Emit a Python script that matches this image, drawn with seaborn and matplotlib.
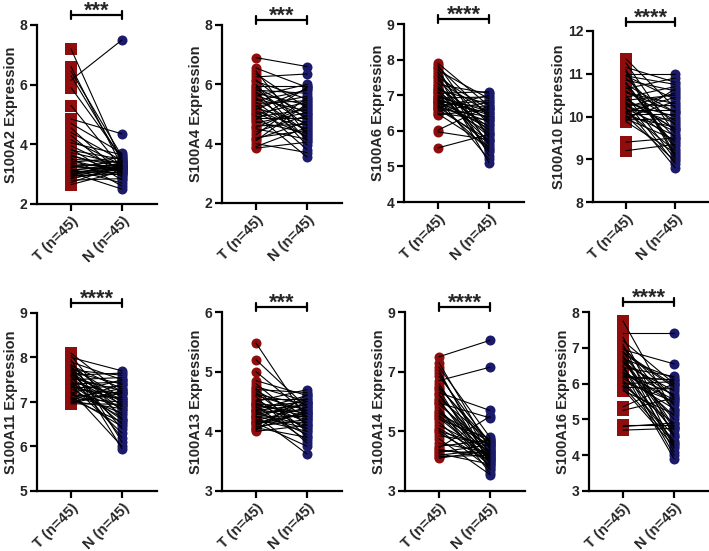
import numpy as np
import pandas as pd
import seaborn as sns
import matplotlib.pyplot as plt
import matplotlib.transforms as mtransforms

sns.set_style('ticks')
plt.rcParams['font.family'] = ['Liberation Sans', 'DejaVu Sans']
plt.rcParams['font.weight'] = 'bold'

genes = ['S100A2', 'S100A4', 'S100A6', 'S100A10',
         'S100A11', 'S100A13', 'S100A14', 'S100A16']
groups = ['T (n=45)', 'N (n=45)']
stars = ['***', '***', '****', '****', '****', '***', '****', '****']
t_markers = ['s', 'o', 'o', 's', 's', 'o', 'o', 's']
ylims = [(2, 8), (2, 8), (4, 9), (8, 12), (5, 9), (3, 6), (3, 9), (3, 8)]
yticks = [[2, 4, 6, 8], [2, 4, 6, 8], [4, 5, 6, 7, 8, 9], [8, 9, 10, 11, 12],
          [5, 6, 7, 8, 9], [3, 4, 5, 6], [3, 5, 7, 9], [3, 4, 5, 6, 7, 8]]

# paired values, tumour (T) and normal (N), 45 each
T_A2 = [7.20, 6.60, 6.45, 6.30, 6.15, 5.90, 5.30, 4.85, 4.70,
        4.55, 4.40, 4.30, 4.15, 4.05, 3.95, 3.85, 3.80, 3.72,
        3.65, 3.60, 3.55, 3.50, 3.45, 3.40, 3.36, 3.32, 3.28,
        3.25, 3.22, 3.18, 3.15, 3.12, 3.10, 3.07, 3.05, 3.02,
        3.00, 2.97, 2.95, 2.92, 2.88, 2.85, 2.80, 2.72, 2.65]
N_A2 = [3.40, 3.25, 3.60, 3.45, 7.50, 3.55, 3.20, 4.35, 3.70,
        3.00, 3.45, 2.90, 3.30, 3.65, 3.15, 2.80, 3.50, 3.35,
        3.05, 3.25, 2.60, 3.40, 3.10, 3.55, 3.20, 2.95, 3.30,
        3.15, 3.45, 2.70, 3.25, 3.35, 3.05, 3.20, 2.50, 3.30,
        3.15, 3.40, 3.00, 3.25, 3.10, 3.20, 2.85, 3.30, 3.10]

T_A4 = [6.90, 6.55, 6.45, 6.35, 6.25, 6.15, 6.10, 6.00, 5.95,
        5.90, 5.85, 5.80, 5.75, 5.70, 5.65, 5.60, 5.55, 5.50,
        5.45, 5.40, 5.35, 5.30, 5.25, 5.20, 5.15, 5.10, 5.05,
        5.00, 4.95, 4.90, 4.85, 4.80, 4.75, 4.70, 4.60, 4.55,
        4.50, 4.40, 4.30, 4.20, 4.15, 4.10, 4.00, 3.90, 3.85]
N_A4 = [6.60, 5.90, 4.30, 5.20, 6.35, 4.80, 5.50, 4.10, 5.95,
        5.00, 4.60, 5.70, 3.95, 5.30, 4.90, 6.00, 4.40, 5.10,
        5.80, 4.20, 5.45, 3.80, 5.60, 4.70, 5.85, 4.50, 4.25,
        5.40, 3.55, 5.15, 4.85, 5.90, 4.35, 5.05, 4.65, 5.25,
        4.15, 4.95, 5.55, 4.45, 4.75, 5.35, 3.70, 4.55, 4.05]

T_A6 = [7.90, 7.85, 7.80, 7.75, 7.70, 7.65, 7.60, 7.55, 7.50,
        7.45, 7.40, 7.35, 7.30, 7.25, 7.20, 7.18, 7.15, 7.10,
        7.08, 7.05, 7.00, 6.98, 6.95, 6.92, 6.90, 6.88, 6.85,
        6.82, 6.80, 6.78, 6.75, 6.72, 6.70, 6.68, 6.65, 6.62,
        6.60, 6.55, 6.50, 6.48, 6.45, 6.02, 5.97, 5.52, 6.85]
N_A6 = [6.70, 5.80, 6.40, 5.30, 6.90, 5.60, 6.20, 5.10, 6.60,
        5.90, 6.50, 5.40, 7.05, 6.00, 6.30, 5.50, 6.75, 6.10,
        5.70, 7.10, 6.35, 5.85, 6.55, 6.95, 5.20, 6.45, 6.05,
        6.65, 5.95, 6.25, 5.45, 6.85, 6.15, 5.65, 7.00, 6.40,
        5.75, 6.80, 6.30, 5.55, 6.60, 6.70, 5.75, 5.90, 6.50]

T_A10 = [11.35, 11.25, 11.15, 11.10, 11.00, 10.95, 10.90, 10.85, 10.80,
         10.75, 10.70, 10.65, 10.60, 10.55, 10.50, 10.45, 10.40, 10.38,
         10.35, 10.32, 10.30, 10.28, 10.25, 10.22, 10.20, 10.18, 10.15,
         10.12, 10.10, 10.08, 10.05, 10.02, 10.00, 9.98, 9.95, 9.92,
         9.90, 9.88, 10.42, 10.58, 10.78, 10.95, 11.05, 9.40, 9.20]
N_A10 = [10.20, 9.60, 10.80, 9.10, 11.00, 10.40, 9.80, 10.60, 9.30,
         10.10, 9.50, 10.90, 9.90, 10.30, 9.00, 10.70, 9.70, 10.50,
         8.90, 10.00, 9.40, 10.25, 9.85, 10.55, 8.80, 9.65, 10.15,
         9.20, 10.45, 9.55, 10.05, 8.95, 9.75, 10.35, 9.45, 9.95,
         10.65, 9.15, 9.70, 10.10, 9.25, 10.75, 9.05, 9.50, 9.35]

T_A11 = [8.10, 8.05, 8.00, 7.95, 7.90, 7.85, 7.82, 7.80, 7.78,
         7.75, 7.72, 7.70, 7.68, 7.65, 7.62, 7.60, 7.58, 7.55,
         7.52, 7.50, 7.48, 7.45, 7.42, 7.40, 7.38, 7.35, 7.32,
         7.30, 7.28, 7.25, 7.22, 7.20, 7.18, 7.15, 7.12, 7.10,
         7.08, 7.06, 7.04, 7.02, 7.00, 6.98, 6.96, 7.40, 7.60]
N_A11 = [7.20, 6.60, 7.70, 6.10, 7.50, 6.90, 7.30, 5.95, 7.10,
         6.80, 7.60, 6.40, 7.40, 7.00, 6.70, 7.65, 6.20, 7.25,
         6.95, 7.55, 6.50, 7.15, 6.85, 7.45, 6.30, 7.05, 7.35,
         6.65, 7.20, 6.00, 6.90, 7.50, 6.75, 7.10, 6.45, 7.30,
         7.00, 6.55, 7.40, 6.85, 7.25, 7.20, 6.95, 6.60, 7.05]

T_A13 = [5.48, 5.20, 5.00, 4.85, 4.80, 4.75, 4.72, 4.70, 4.68,
         4.65, 4.62, 4.60, 4.58, 4.55, 4.52, 4.50, 4.48, 4.46,
         4.44, 4.42, 4.40, 4.38, 4.36, 4.34, 4.32, 4.30, 4.28,
         4.26, 4.24, 4.22, 4.20, 4.18, 4.16, 4.14, 4.12, 4.10,
         4.08, 4.06, 4.04, 4.02, 4.00, 4.45, 4.35, 4.25, 4.15]
N_A13 = [4.20, 4.40, 4.30, 4.60, 4.10, 4.50, 3.90, 4.65, 4.25,
         4.00, 4.45, 4.35, 3.80, 4.55, 4.15, 4.70, 4.05, 4.40,
         4.30, 3.85, 4.50, 4.20, 4.60, 3.95, 4.35, 4.10, 4.45,
         3.62, 4.25, 4.55, 4.00, 4.40, 4.15, 3.75, 4.30, 4.50,
         4.20, 3.90, 4.35, 4.62, 4.10, 4.25, 4.45, 4.05, 4.30]

T_A14 = [7.50, 7.30, 7.15, 7.05, 6.95, 6.85, 6.70, 6.60, 6.50,
         6.40, 6.30, 6.20, 6.10, 6.05, 6.00, 5.95, 5.90, 5.80,
         5.70, 5.60, 5.55, 5.50, 5.45, 5.40, 5.30, 5.20, 5.10,
         5.05, 5.00, 4.95, 4.85, 4.75, 4.60, 4.50, 4.45, 4.40,
         4.35, 4.30, 4.25, 4.20, 4.15, 4.10, 5.65, 6.25, 6.45]
N_A14 = [8.05, 4.40, 4.80, 3.90, 4.20, 4.60, 7.15, 4.00, 4.50,
         3.70, 5.70, 4.30, 4.70, 3.80, 4.10, 5.45, 4.45, 3.60,
         4.25, 4.65, 3.95, 4.55, 4.05, 4.75, 3.85, 4.35, 4.15,
         3.75, 4.50, 4.00, 4.60, 3.55, 4.30, 4.70, 5.50, 4.10,
         4.25, 4.55, 3.90, 4.40, 4.20, 4.35, 4.05, 4.15, 4.65]

T_A16 = [7.75, 7.40, 7.30, 7.20, 7.10, 7.00, 6.95, 6.90, 6.85,
         6.80, 6.75, 6.70, 6.65, 6.60, 6.55, 6.50, 6.45, 6.40,
         6.35, 6.30, 6.25, 6.20, 6.15, 6.10, 6.05, 6.00, 5.95,
         5.90, 5.85, 5.80, 6.62, 6.48, 6.32, 6.18, 6.02, 6.88,
         7.05, 6.72, 6.28, 5.92, 5.35, 5.25, 4.85, 4.80, 4.70]
N_A16 = [5.20, 7.40, 4.50, 6.00, 4.20, 5.60, 6.55, 4.80, 5.90,
         4.10, 5.40, 6.15, 4.60, 5.00, 5.80, 4.30, 6.20, 5.10,
         3.90, 5.70, 4.70, 6.10, 5.30, 4.40, 5.50, 6.05, 4.90,
         5.85, 4.25, 5.15, 5.65, 4.00, 5.45, 6.10, 4.55, 5.95,
         5.25, 4.75, 5.55, 4.35, 6.00, 5.60, 4.85, 4.90, 4.75]

tumour = [T_A2, T_A4, T_A6, T_A10, T_A11, T_A13, T_A14, T_A16]
normal = [N_A2, N_A4, N_A6, N_A10, N_A11, N_A13, N_A14, N_A16]

red = '#8f0d0d'
navy = '#1b1a6b'

W, H = 709, 551
fig = plt.figure(figsize=(W / 100, H / 100), dpi=100)

# axes boxes in pixels: left, top, bottom, width, bracket offset above top
boxes = [(37, 25, 204, 120, 10), (222, 25, 203, 120, 5),
         (404, 24, 202, 120, 5), (593, 31, 202, 116, 9),
         (37, 313, 491, 120, 10), (222, 312, 491, 120, 5),
         (405, 312, 491, 120, 5), (589, 312, 491, 120, 10)]

for i, gene in enumerate(genes):
    left, top, bottom, width, boff = boxes[i]
    hpx = bottom - top
    ax = fig.add_axes([left / W, 1 - bottom / H, width / W, hpx / H])

    n = len(tumour[i])
    df = pd.DataFrame({
        'pair': list(range(n)) * 2,
        'group': [groups[0]] * n + [groups[1]] * n,
        'pos': [0] * n + [1] * n,
        'value': list(tumour[i]) + list(normal[i]),
    })
    t_size = 75 if t_markers[i] == 's' else 52
    sns.scatterplot(data=df[df['pos'] == 0], x='pos', y='value', color=red,
                    marker=t_markers[i], s=t_size, linewidth=0, legend=False,
                    ax=ax, zorder=2)
    sns.scatterplot(data=df[df['pos'] == 1], x='pos', y='value', color=navy,
                    marker='o', s=52, linewidth=0, legend=False,
                    ax=ax, zorder=2)
    sns.lineplot(data=df, x='pos', y='value', units='pair', estimator=None,
                 color='black', lw=0.8, ax=ax, zorder=3)

    ax.set_xlim(-0.667, 1.686)
    ax.set_ylim(*ylims[i])
    ax.set_yticks(yticks[i])
    ax.set_xticks([0, 1])
    ax.set_xticklabels(groups, rotation=45, ha='right', va='top',
                       rotation_mode='anchor', fontsize=10.5, fontweight='bold')
    ax.tick_params(axis='y', labelsize=10)
    for lab in ax.get_yticklabels():
        lab.set_fontweight('bold')
    ax.tick_params(width=1.6, length=5, color='black', pad=2)
    ax.set_xlabel('')
    ax.set_ylabel(gene + ' Expression', fontsize=10.5, fontweight='bold',
                  labelpad=1)
    for side in ['left', 'bottom']:
        ax.spines[side].set_linewidth(1.6)
        ax.spines[side].set_color('black')
    sns.despine(ax=ax)

    # significance bracket
    trans = mtransforms.blended_transform_factory(ax.transData, ax.transAxes)
    yb = 1 + boff / hpx
    cap = 4 / hpx
    ax.plot([0, 1], [yb, yb], color='black', lw=1.6, transform=trans,
            clip_on=False)
    for xc in [0, 1]:
        ax.plot([xc, xc], [yb - cap, yb + cap], color='black', lw=1.6,
                transform=trans, clip_on=False)
    ax.annotate(stars[i], xy=(0.5, yb), xycoords=trans, xytext=(0, -1.5),
                textcoords='offset points', ha='center', va='baseline',
                fontsize=15.5, fontweight='bold', annotation_clip=False)

fig.savefig('out.png', dpi=100)
